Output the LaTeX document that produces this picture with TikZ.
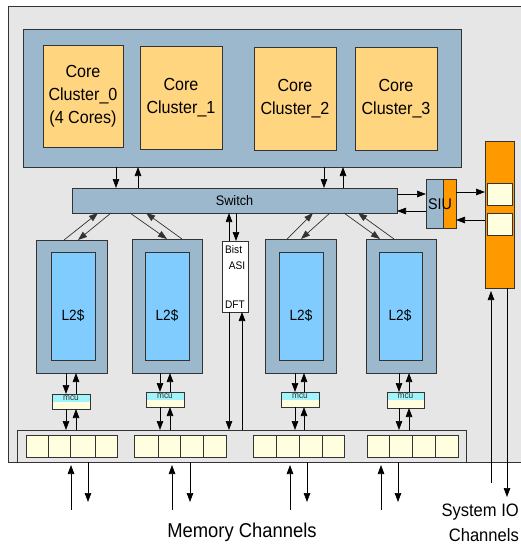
\documentclass[tikz,border=0pt]{standalone}
\usepackage{fontspec}
\setmainfont[FakeStretch=0.92]{Liberation Sans}
\usetikzlibrary{arrows.meta}

\definecolor{bggray}{HTML}{E6E6E6}
\definecolor{steel}{HTML}{9BB8CD}
\definecolor{coreor}{HTML}{FFD580}
\definecolor{lblue}{HTML}{80CCFF}
\definecolor{iooran}{HTML}{FF9900}
\definecolor{cream}{HTML}{FFFFE0}
\definecolor{mcucyan}{HTML}{A0F4FA}
\definecolor{edge}{HTML}{333333}

% box from (x1,y1) to (x2,y2), pixel units, y downwards
\newcommand\blk[7]{\node[#6, anchor=north west,
  minimum width={(#4-#2)*1pt}, minimum height={(#5-#3)*1pt}] (#1) at (#2,#3) {#7};}

\begin{document}
\begin{tikzpicture}[x=1pt,y=-1pt,
  box/.style={draw=edge, line width=0.7pt, inner sep=0pt, outer sep=0pt},
  frame/.style={box, fill=bggray},
  blue/.style={box, fill=steel},
  core/.style={box, fill=coreor, align=center, font=\fontsize{17.5}{23}\selectfont},
  l2/.style={box, fill=lblue},
  cell/.style={box, fill=cream},
  orng/.style={box, fill=iooran},
  mcubox/.style={box, fill=cream, path picture={
      \fill[mcucyan] (path picture bounding box.north west) rectangle (path picture bounding box.east);}},
  arr/.style={-{Triangle[length=9pt,width=6.5pt]}, line width=0.7pt},
  darr/.style={arr, draw=black!80},
  lbl/.style={inner sep=0pt}
]
\useasboundingbox (0,0) rectangle (521,546);
\fill[white] (0,0) rectangle (521,546);

% chip outline
\blk{chip}{8}{6}{540}{462}{frame}{}

% core clusters
\blk{top}{23}{29}{461}{167}{blue}{}
\blk{cc0}{43}{45}{123}{147}{core}{Core\\Cluster\_0\\(4 Cores)}
\blk{cc1}{140}{46}{222}{149}{core}{Core\\Cluster\_1}
\blk{cc2}{254}{47}{336}{150}{core}{Core\\Cluster\_2}
\blk{cc3}{355}{47}{437}{150}{core}{Core\\Cluster\_3}

% switch
\blk{sw}{72}{188}{397}{213}{blue, font=\fontsize{13.8}{16}\selectfont}{Switch}

% SIU and system IO column
\blk{siuL}{426}{179}{443}{228}{blue}{}
\blk{siuR}{443}{179}{456}{228}{orng}{}
\node[lbl, font=\fontsize{15.5}{18}\selectfont] (siut) at (440,204) {SIU};
\blk{io}{485}{141}{514}{288}{orng}{}
\blk{ioa}{487}{183}{512}{205}{cell}{}
\blk{iob}{487}{213}{512}{235}{cell}{}

% L2 caches
\blk{l2a}{36}{240}{107}{373}{blue}{}
\blk{l2b}{132}{239}{202}{373}{blue}{}
\blk{l2c}{265}{239}{336}{373}{blue}{}
\blk{l2d}{366}{239}{436}{373}{blue}{}
\blk{l2ai}{51}{252}{95}{360}{l2}{}
\blk{l2bi}{145}{252}{189}{360}{l2}{}
\blk{l2ci}{279}{252}{323}{360}{l2}{}
\blk{l2di}{379}{252}{422}{360}{l2}{}
\foreach \n/\x in {a/73, b/167, c/301, d/400}
  \node[lbl, font=\fontsize{14.8}{17}\selectfont] (l2t\n) at (\x,316) {L2\$};

% Bist / ASI / DFT
\blk{bist}{222}{241}{248}{312}{box, fill=white}{}
\node[lbl, anchor=west, font=\fontsize{11}{13}\selectfont] (tbist) at (225,250) {Bist};
\node[lbl, font=\fontsize{11}{13}\selectfont] (tasi) at (237,266) {ASI};
\node[lbl, font=\fontsize{11}{13}\selectfont] (tdft) at (235,305) {DFT};

% memory controllers
\blk{mcuA}{52}{394}{90}{409}{mcubox}{}
\blk{mcuB}{146}{392}{184}{407}{mcubox}{}
\blk{mcuC}{281}{392}{319}{407}{mcubox}{}
\blk{mcuD}{387}{392}{424}{408}{mcubox}{}
\foreach \m in {A,B,C,D}
  \node[lbl, font=\fontsize{9}{10}\selectfont, text=edge] (mt\m) at ([yshift=-4pt]mcu\m.north) {mcu};

% memory interface bus
\blk{bus}{17}{430}{466}{462}{frame}{}
\foreach \n/\a/\b in {a1/26/48, a2/48/70, a3/70/95, a4/95/117,
                      b1/134/158, b2/158/180, b3/180/203, b4/203/226,
                      c1/253/276, c2/276/299, c3/299/322, c4/322/344,
                      d1/367/389, d2/389/412, d3/412/435, d4/435/458}
  \blk{cell\n}{\a}{435}{\b}{457}{cell}{};

% core block <-> switch
\draw[arr] (top.south -| 116,0) -- (sw.north -| 116,0);
\draw[arr] (sw.north -| 138,0) -- (top.south -| 138,0);
\draw[arr] (top.south -| 324,0) -- (sw.north -| 324,0);
\draw[arr] (sw.north -| 343,0) -- (top.south -| 343,0);

% switch <-> SIU <-> IO
\draw[arr] (sw.east |- 0,194) -- (siuL.west |- 0,194);
\draw[arr] (siuL.west |- 0,211) -- (sw.east |- 0,211);
\draw[arr] (siuR.east |- 0,192) -- (io.west |- 0,192);
\draw[arr] (io.west |- 0,220) -- (siuR.east |- 0,220);

% switch <-> L2
\draw[darr] (l2a.north -| 64,0) -- (sw.south -| 98,0);
\draw[darr] (sw.south -| 111,0) -- (l2a.north -| 78,0);
\draw[darr] (sw.south -| 130,0) -- (l2b.north -| 167,0);
\draw[darr] (l2b.north -| 182,0) -- (sw.south -| 146,0);
\draw[darr] (l2c.north -| 287,0) -- (sw.south -| 313,0);
\draw[darr] (sw.south -| 330,0) -- (l2c.north -| 301,0);
\draw[darr] (sw.south -| 344,0) -- (l2d.north -| 380,0);
\draw[darr] (l2d.north -| 394,0) -- (sw.south -| 358,0);

% switch <-> Bist <-> bus
\draw[arr] (bist.north -| 229,0) -- (sw.south -| 229,0);
\draw[arr] (sw.south -| 236,0) -- (bist.north -| 236,0);
\draw[arr] (bist.south -| 229,0) -- (bus.north -| 229,0);
\draw[arr] (bus.north -| 242,0) -- (bist.south -| 242,0);

% L2 <-> mcu <-> bus
\foreach \l/\m/\d/\u in {a/A/66/76, b/B/160/170, c/C/295/304, d/D/399/409} {
  \draw[arr] (l2\l.south -| \d,0) -- (mcu\m.north -| \d,0);
  \draw[arr] (mcu\m.north -| \u,0) -- (l2\l.south -| \u,0);
  \draw[arr] (mcu\m.south -| \d,0) -- (bus.north -| \d,0);
  \draw[arr] (bus.north -| \u,0) -- (mcu\m.south -| \u,0);
}

% memory channels
\foreach \k/\u/\d in {1/71/88, 2/172/190, 3/290/307, 4/381/398} {
  \coordinate (mu\k) at (\u,510);
  \coordinate (md\k) at (\d,502);
  \draw[arr, shorten >=3pt] (mu\k) -- (bus.south -| mu\k);
  \draw[arr] (bus.south -| md\k) -- (md\k);
}
\node[lbl, font=\fontsize{20}{22}\selectfont] (memlbl) at (242,532) {Memory Channels};

% system IO channels
\coordinate (iou) at (491,483);
\coordinate (iod) at (507,497);
\draw[arr, shorten >=3pt] (iou) -- (io.south -| iou);
\draw[arr] (io.south -| iod) -- (iod);
\node[lbl, anchor=east, font=\fontsize{18}{22}\selectfont] (sysio) at (519,512) {System IO};
\node[lbl, anchor=east, font=\fontsize{18}{22}\selectfont] (sysch) at (519,535) {Channels};
\end{tikzpicture}
\end{document}
